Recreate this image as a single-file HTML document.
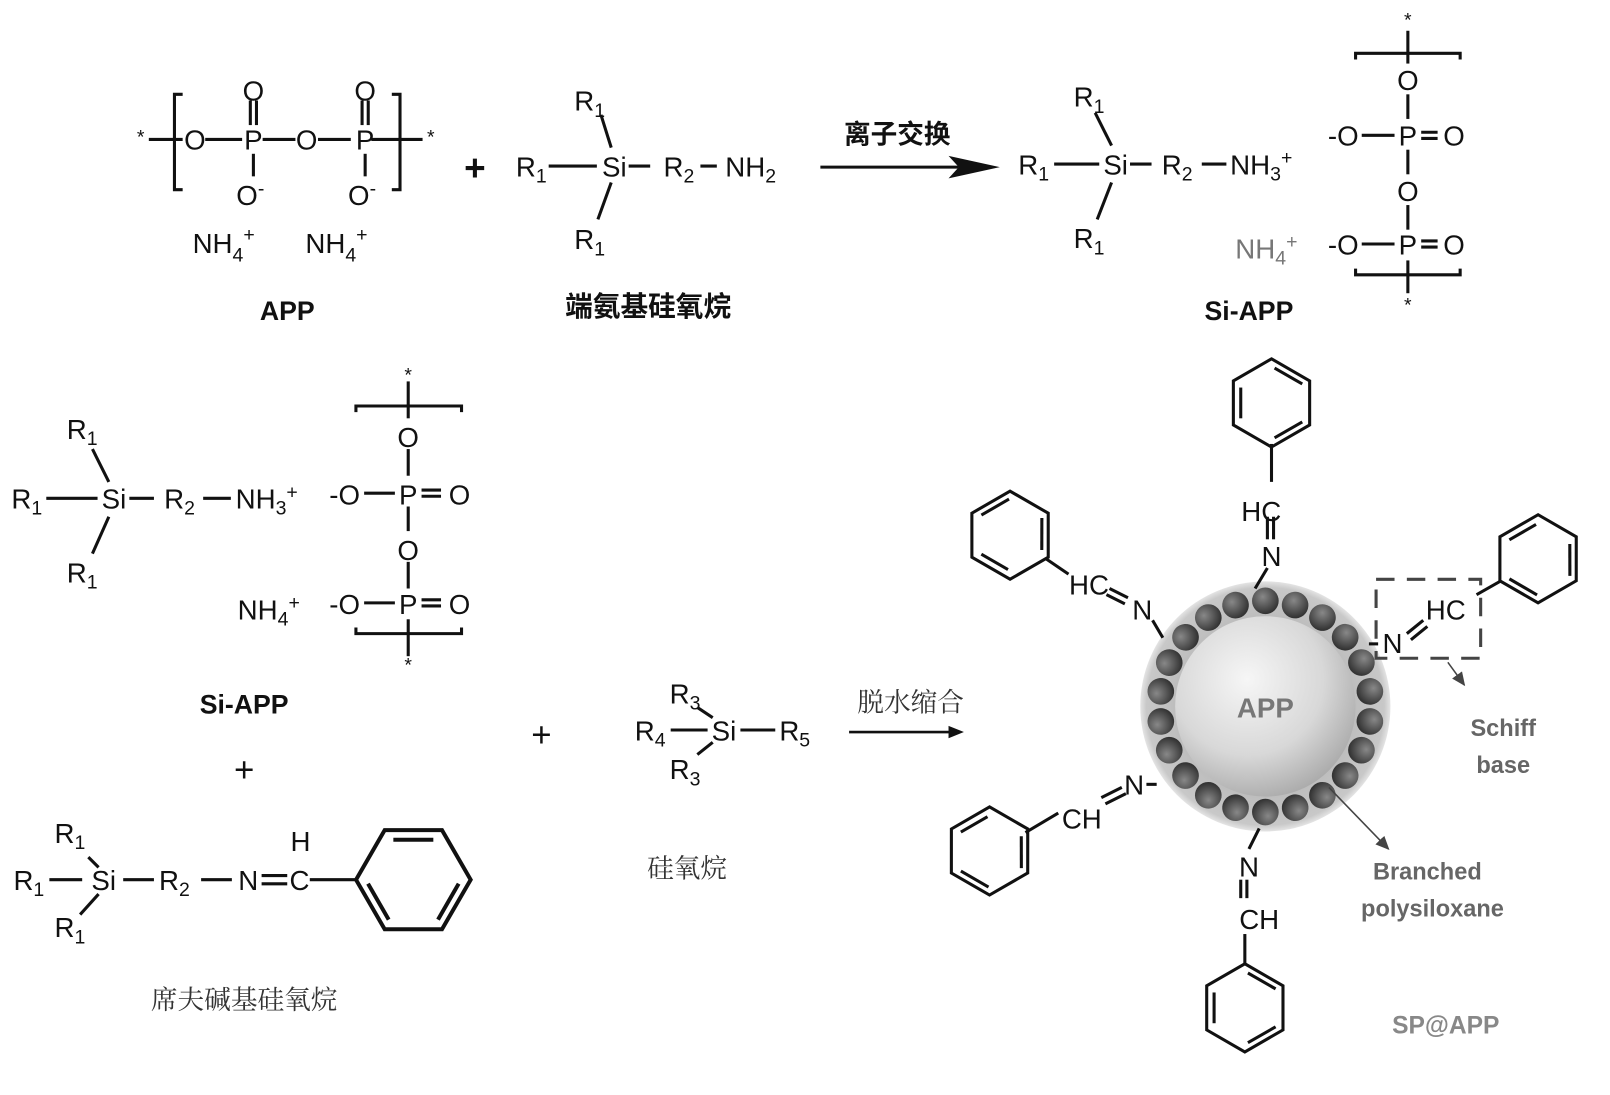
<!DOCTYPE html>
<html><head><meta charset="utf-8"><style>
html,body{margin:0;padding:0;background:#fff;width:1610px;height:1095px;overflow:hidden}
svg{display:block}
text{font-family:"Liberation Sans","Noto Sans CJK SC",sans-serif;fill:#111}
.c{font-size:27px;text-anchor:middle}
.s{font-size:19px}
.cn{font-family:"Liberation Serif","Noto Serif CJK SC",serif;font-size:26px;text-anchor:middle;fill:#333}
.b{font-weight:bold}
.g{fill:#777}
</style></head><body>
<svg width="1610" height="1095" viewBox="0 0 1570 1068" xmlns="http://www.w3.org/2000/svg">
<defs>
<g id="bz" fill="none" stroke="#111" stroke-width="3">
<polygon points="0,-43 37.2,-21.5 37.2,21.5 0,43 -37.2,21.5 -37.2,-21.5"/>
<line x1="3" y1="-34" x2="30" y2="-18.5"/>
<line x1="30" y1="18.5" x2="3" y2="34"/>
<line x1="-30" y1="15" x2="-30" y2="-15"/>
</g>
<radialGradient id="sph" cx="0.4" cy="0.35" r="0.7">
<stop offset="0" stop-color="#f6f6f6"/><stop offset="0.6" stop-color="#d8d8d8"/><stop offset="1" stop-color="#a8a8a8"/></radialGradient>
<radialGradient id="bd" cx="0.4" cy="0.35" r="0.65">
<stop offset="0" stop-color="#888"/><stop offset="1" stop-color="#333"/></radialGradient>
<radialGradient id="halo" cx="0.5" cy="0.5" r="0.5">
<stop offset="0.7" stop-color="#bdbdbd"/><stop offset="0.95" stop-color="#c8c8c8"/><stop offset="1" stop-color="#e4e4e4"/></radialGradient>
<marker id="ah" markerWidth="10" markerHeight="10" refX="8" refY="5" orient="auto"><path d="M0,1 L9,5 L0,9z" fill="#444"/></marker>
</defs>

<!-- ===== TOP ROW: APP ===== -->
<g stroke="#111" stroke-width="3" fill="none">
<path d="M178,92 h-8 v93 h8"/><path d="M382,92 h8 v93 h-8"/>
<line x1="145" y1="136" x2="178" y2="136"/><line x1="200" y1="136" x2="236" y2="136"/>
<line x1="256" y1="136" x2="288" y2="136"/><line x1="310" y1="136" x2="342" y2="136"/>
<line x1="362" y1="136" x2="412" y2="136"/>
<line x1="244" y1="98" x2="244" y2="122"/><line x1="250" y1="98" x2="250" y2="122"/>
<line x1="353" y1="98" x2="353" y2="122"/><line x1="359" y1="98" x2="359" y2="122"/>
<line x1="247" y1="150" x2="247" y2="172"/><line x1="356" y1="150" x2="356" y2="172"/>
</g>
<text x="137" y="140" class="c s">*</text><text x="420" y="140" class="c s">*</text>
<text x="190" y="146" class="c">O</text><text x="247" y="146" class="c">P</text>
<text x="299" y="146" class="c">O</text><text x="356" y="146" class="c">P</text>
<text x="247" y="98" class="c">O</text><text x="356" y="98" class="c">O</text>
<text x="244" y="200" class="c">O<tspan class="s" dy="-10">-</tspan></text>
<text x="353" y="200" class="c">O<tspan class="s" dy="-10">-</tspan></text>
<text x="218" y="247" class="c">NH<tspan class="s" dy="8">4</tspan><tspan class="s" dy="-20">+</tspan></text>
<text x="328" y="247" class="c">NH<tspan class="s" dy="8">4</tspan><tspan class="s" dy="-20">+</tspan></text>
<text x="280" y="312" class="c b" style="font-size:26px">APP</text>
<text x="463" y="176" class="c b" style="font-size:36px">+</text>

<!-- aminosilane -->
<g stroke="#111" stroke-width="3">
<line x1="535" y1="162" x2="582" y2="162"/><line x1="613" y1="162" x2="634" y2="162"/>
<line x1="683" y1="162" x2="699" y2="162"/>
<line x1="586" y1="112" x2="596" y2="144"/><line x1="596" y1="178" x2="583" y2="214"/>
</g>
<text x="575" y="108" class="c">R<tspan class="s" dy="6">1</tspan></text>
<text x="518" y="172" class="c">R<tspan class="s" dy="6">1</tspan></text>
<text x="599" y="172" class="c">Si</text>
<text x="662" y="172" class="c">R<tspan class="s" dy="6">2</tspan></text>
<text x="732" y="172" class="c">NH<tspan class="s" dy="6">2</tspan></text>
<text x="575" y="243" class="c">R<tspan class="s" dy="6">1</tspan></text>
<text x="632" y="308" class="c b" style="font-size:27px;font-family:'Noto Sans CJK SC',sans-serif">端氨基硅氧烷</text>

<!-- arrow 1 -->
<text x="875" y="140" class="c b" style="font-size:26px;font-family:'Noto Sans CJK SC',sans-serif">离子交换</text>
<line x1="800" y1="163" x2="935" y2="163" stroke="#111" stroke-width="3"/>
<path d="M925,152 L975,163 L925,174 L935,163z" fill="#111"/>

<!-- Si-APP top right -->
<g stroke="#111" stroke-width="3">
<line x1="1028" y1="160" x2="1072" y2="160"/><line x1="1102" y1="160" x2="1123" y2="160"/>
<line x1="1172" y1="160" x2="1196" y2="160"/>
<line x1="1068" y1="110" x2="1084" y2="142"/><line x1="1084" y1="178" x2="1070" y2="214"/>
<path d="M1322,58 v-6 h102 v6" fill="none"/><line x1="1373" y1="30" x2="1373" y2="62"/>
<line x1="1373" y1="92" x2="1373" y2="116"/><line x1="1373" y1="146" x2="1373" y2="170"/>
<line x1="1373" y1="200" x2="1373" y2="224"/>
<path d="M1322,262 v6 h102 v-6" fill="none"/><line x1="1373" y1="254" x2="1373" y2="286"/>
<line x1="1328" y1="132" x2="1360" y2="132"/><line x1="1328" y1="238" x2="1360" y2="238"/>
<line x1="1386" y1="129" x2="1402" y2="129"/><line x1="1386" y1="135" x2="1402" y2="135"/>
<line x1="1386" y1="235" x2="1402" y2="235"/><line x1="1386" y1="241" x2="1402" y2="241"/>
</g>
<text x="1062" y="104" class="c">R<tspan class="s" dy="6">1</tspan></text>
<text x="1008" y="170" class="c">R<tspan class="s" dy="6">1</tspan></text>
<text x="1088" y="170" class="c">Si</text>
<text x="1148" y="170" class="c">R<tspan class="s" dy="6">2</tspan></text>
<text x="1230" y="170" class="c">NH<tspan class="s" dy="6">3</tspan><tspan class="s" dy="-16">+</tspan></text>
<text x="1062" y="242" class="c">R<tspan class="s" dy="6">1</tspan></text>
<text x="1373" y="26" class="c s">*</text>
<text x="1373" y="88" class="c">O</text>
<text x="1310" y="142" class="c">-O</text><text x="1373" y="142" class="c">P</text><text x="1418" y="142" class="c">O</text>
<text x="1373" y="196" class="c">O</text>
<text x="1310" y="248" class="c">-O</text><text x="1373" y="248" class="c">P</text><text x="1418" y="248" class="c">O</text>
<text x="1373" y="304" class="c s">*</text>
<text x="1235" y="252" class="c g">NH<tspan class="s" dy="6">4</tspan><tspan class="s" dy="-16">+</tspan></text>
<text x="1218" y="312" class="c b" style="font-size:26px">Si-APP</text>

<!-- ===== MIDDLE LEFT: Si-APP ===== -->
<g stroke="#111" stroke-width="3">
<line x1="45" y1="486" x2="95" y2="486"/><line x1="126" y1="486" x2="150" y2="486"/>
<line x1="198" y1="486" x2="225" y2="486"/>
<line x1="90" y1="438" x2="106" y2="470"/><line x1="106" y1="504" x2="90" y2="540"/>
<path d="M347,402 v-6 h103 v6" fill="none"/><line x1="398" y1="372" x2="398" y2="408"/>
<line x1="398" y1="438" x2="398" y2="464"/><line x1="398" y1="494" x2="398" y2="518"/>
<line x1="398" y1="548" x2="398" y2="574"/>
<path d="M347,612 v6 h103 v-6" fill="none"/><line x1="398" y1="604" x2="398" y2="640"/>
<line x1="355" y1="481" x2="385" y2="481"/><line x1="355" y1="588" x2="385" y2="588"/>
<line x1="411" y1="478" x2="430" y2="478"/><line x1="411" y1="484" x2="430" y2="484"/>
<line x1="411" y1="585" x2="430" y2="585"/><line x1="411" y1="591" x2="430" y2="591"/>
</g>
<text x="80" y="428" class="c">R<tspan class="s" dy="6">1</tspan></text>
<text x="26" y="496" class="c">R<tspan class="s" dy="6">1</tspan></text>
<text x="111" y="496" class="c">Si</text>
<text x="175" y="496" class="c">R<tspan class="s" dy="6">2</tspan></text>
<text x="260" y="496" class="c">NH<tspan class="s" dy="6">3</tspan><tspan class="s" dy="-16">+</tspan></text>
<text x="80" y="568" class="c">R<tspan class="s" dy="6">1</tspan></text>
<text x="398" y="372" class="c s">*</text>
<text x="398" y="436" class="c">O</text>
<text x="336" y="492" class="c">-O</text><text x="398" y="492" class="c">P</text><text x="448" y="492" class="c">O</text>
<text x="398" y="546" class="c">O</text>
<text x="336" y="599" class="c">-O</text><text x="398" y="599" class="c">P</text><text x="448" y="599" class="c">O</text>
<text x="398" y="655" class="c s">*</text>
<text x="262" y="604" class="c">NH<tspan class="s" dy="6">4</tspan><tspan class="s" dy="-16">+</tspan></text>
<text x="238" y="696" class="c b" style="font-size:26px">Si-APP</text>
<text x="238" y="762" class="c" style="font-size:34px">+</text>

<!-- Schiff base silane -->
<g stroke="#111" stroke-width="3">
<line x1="48" y1="858" x2="80" y2="858"/>
<line x1="120" y1="858" x2="150" y2="858"/><line x1="196" y1="858" x2="226" y2="858"/>
<line x1="255" y1="854" x2="280" y2="854"/><line x1="255" y1="862" x2="280" y2="862"/>
<line x1="302" y1="858" x2="346" y2="858"/>
<line x1="86" y1="836" x2="96" y2="846"/><line x1="96" y1="872" x2="78" y2="892"/>
</g>
<text x="68" y="822" class="c">R<tspan class="s" dy="6">1</tspan></text>
<text x="28" y="868" class="c">R<tspan class="s" dy="6">1</tspan></text>
<text x="101" y="868" class="c">Si</text>
<text x="170" y="868" class="c">R<tspan class="s" dy="6">2</tspan></text>
<text x="242" y="868" class="c">N</text>
<text x="292" y="868" class="c">C</text>
<text x="293" y="830" class="c">H</text>
<text x="68" y="914" class="c">R<tspan class="s" dy="6">1</tspan></text>
<use href="#bz" transform="translate(403,858) rotate(90) scale(1.3)"/>
<text x="238" y="984" class="cn">席夫碱基硅氧烷</text>

<!-- middle: + silane -->
<text x="528" y="728" class="c" style="font-size:34px">+</text>
<g stroke="#111" stroke-width="3">
<line x1="654" y1="712" x2="690" y2="712"/><line x1="722" y1="712" x2="756" y2="712"/>
<line x1="680" y1="690" x2="695" y2="700"/><line x1="695" y1="724" x2="680" y2="736"/>
</g>
<text x="668" y="686" class="c">R<tspan class="s" dy="6">3</tspan></text>
<text x="634" y="722" class="c">R<tspan class="s" dy="6">4</tspan></text>
<text x="706" y="722" class="c">Si</text>
<text x="775" y="722" class="c">R<tspan class="s" dy="6">5</tspan></text>
<text x="668" y="760" class="c">R<tspan class="s" dy="6">3</tspan></text>
<text x="670" y="856" class="cn">硅氧烷</text>
<text x="888" y="694" class="cn">脱水缩合</text>
<line x1="828" y1="714" x2="930" y2="714" stroke="#111" stroke-width="2.5"/>
<path d="M925,708 L940,714 L925,720z" fill="#111"/>

<!-- ===== SP@APP ===== -->
<circle cx="1234" cy="689" r="122" fill="url(#halo)"/>
<circle cx="1234" cy="689" r="88" fill="url(#sph)"/>
<g id="beads">
<circle cx="1234" cy="586" r="13" fill="url(#bd)"/>
</g>
<use href="#beads" transform="rotate(16.36 1234 689)"/><use href="#beads" transform="rotate(32.73 1234 689)"/>
<use href="#beads" transform="rotate(49.09 1234 689)"/><use href="#beads" transform="rotate(65.45 1234 689)"/>
<use href="#beads" transform="rotate(81.82 1234 689)"/><use href="#beads" transform="rotate(98.18 1234 689)"/>
<use href="#beads" transform="rotate(114.5 1234 689)"/><use href="#beads" transform="rotate(130.9 1234 689)"/>
<use href="#beads" transform="rotate(147.3 1234 689)"/><use href="#beads" transform="rotate(163.6 1234 689)"/>
<use href="#beads" transform="rotate(180 1234 689)"/><use href="#beads" transform="rotate(196.4 1234 689)"/>
<use href="#beads" transform="rotate(212.7 1234 689)"/><use href="#beads" transform="rotate(229.1 1234 689)"/>
<use href="#beads" transform="rotate(245.5 1234 689)"/><use href="#beads" transform="rotate(261.8 1234 689)"/>
<use href="#beads" transform="rotate(278.2 1234 689)"/><use href="#beads" transform="rotate(294.5 1234 689)"/>
<use href="#beads" transform="rotate(310.9 1234 689)"/><use href="#beads" transform="rotate(327.3 1234 689)"/>
<use href="#beads" transform="rotate(343.6 1234 689)"/>
<text x="1234" y="700" class="c b" style="font-size:27px;fill:#777">APP</text>

<!-- arms -->
<g stroke="#111" stroke-width="3" fill="none">
<line x1="1240" y1="433" x2="1240" y2="470"/>
<line x1="1236" y1="504" x2="1236" y2="526"/><line x1="1242" y1="504" x2="1242" y2="526"/>
<line x1="1236" y1="554" x2="1224" y2="574"/>
<line x1="1020" y1="545" x2="1042" y2="560"/>
<line x1="1082" y1="574" x2="1100" y2="583"/><line x1="1079" y1="580" x2="1097" y2="589"/>
<line x1="1124" y1="605" x2="1134" y2="622"/>
<line x1="1463" y1="567" x2="1440" y2="580"/>
<line x1="1372" y1="618" x2="1388" y2="605"/><line x1="1376" y1="624" x2="1392" y2="611"/>
<line x1="1335" y1="628" x2="1344" y2="628"/>
<line x1="1000" y1="812" x2="1032" y2="793"/>
<line x1="1074" y1="778" x2="1094" y2="768"/><line x1="1078" y1="784" x2="1098" y2="774"/>
<line x1="1118" y1="765" x2="1128" y2="765"/>
<line x1="1214" y1="911" x2="1214" y2="940"/>
<line x1="1210" y1="858" x2="1210" y2="876"/><line x1="1216" y1="858" x2="1216" y2="876"/>
<line x1="1218" y1="828" x2="1228" y2="808"/>
</g>
<use href="#bz" transform="translate(1240,393)"/>
<text x="1230" y="508" class="c">HC</text><text x="1240" y="552" class="c">N</text>
<use href="#bz" transform="translate(985,522) rotate(-60)"/>
<text x="1062" y="580" class="c">HC</text><text x="1114" y="604" class="c">N</text>
<use href="#bz" transform="translate(1500,545) rotate(60)"/>
<text x="1410" y="604" class="c">HC</text><text x="1358" y="637" class="c">N</text>
<use href="#bz" transform="translate(965,830) rotate(60)"/>
<text x="1055" y="808" class="c">CH</text><text x="1106" y="775" class="c">N</text>
<use href="#bz" transform="translate(1214,983)"/>
<text x="1218" y="855" class="c">N</text><text x="1228" y="906" class="c">CH</text>

<rect x="1342" y="565" width="102" height="77" fill="none" stroke="#444" stroke-width="3" stroke-dasharray="18,12"/>
<line x1="1412" y1="646" x2="1428" y2="668" stroke="#444" stroke-width="1.5" marker-end="url(#ah)"/>
<text x="1466" y="718" class="c b g" style="font-size:23px;fill:#666">Schiff</text>
<text x="1466" y="754" class="c b g" style="font-size:23px;fill:#666">base</text>
<line x1="1296" y1="768" x2="1354" y2="828" stroke="#444" stroke-width="1.5" marker-end="url(#ah)"/>
<text x="1392" y="858" class="c b" style="font-size:23px;fill:#666">Branched</text>
<text x="1397" y="894" class="c b" style="font-size:23px;fill:#666">polysiloxane</text>
<text x="1410" y="1008" class="c b" style="font-size:24px;fill:#888">SP@APP</text>
</svg>
</body></html>
